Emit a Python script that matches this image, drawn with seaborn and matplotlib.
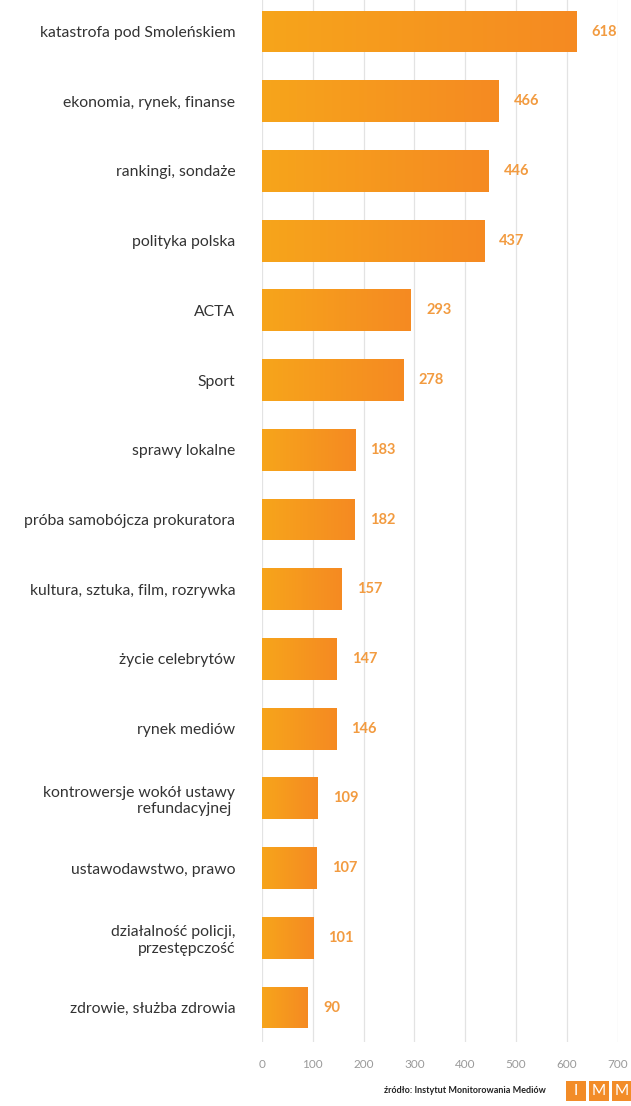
import matplotlib
matplotlib.use("Agg")
import matplotlib.pyplot as plt
import seaborn as sns
import numpy as np
import pandas as pd
from matplotlib.colors import LinearSegmentedColormap
from matplotlib.patches import Rectangle

categories = [
    "katastrofa pod Smoleńskiem",
    "ekonomia, rynek, finanse",
    "rankingi, sondaże",
    "polityka polska",
    "ACTA",
    "Sport",
    "sprawy lokalne",
    "próba samobójcza prokuratora",
    "kultura, sztuka, film, rozrywka",
    "życie celebrytów",
    "rynek mediów",
    "kontrowersje wokół ustawy\nrefundacyjnej ",
    "ustawodawstwo, prawo",
    "działalność policji,\nprzestępczość",
    "zdrowie, służba zdrowia",
]
values = [618, 466, 446, 437, 293, 278, 183, 182, 157, 147, 146, 109, 107, 101, 90]
xticks = [0, 100, 200, 300, 400, 500, 600, 700]

sns.set_theme(style="white")
plt.rcParams['font.family'] = ['Lato', 'DejaVu Sans']

df = pd.DataFrame({"cat": categories, "val": values})

fig = plt.figure(figsize=(6.31, 11.06), dpi=100)
ax = fig.add_axes([0.415, 0.0575, 0.564, 0.9455])

sns.barplot(data=df, y="cat", x="val", orient="h", color="#F6A01E",
            width=0.6, ax=ax, zorder=2)

cmap = LinearSegmentedColormap.from_list("og", ["#F7A51B", "#F58A22"])
grad = np.linspace(0, 1, 256).reshape(1, -1)
for p in ax.patches:
    x0, y0 = p.get_x(), p.get_y()
    w, h = p.get_width(), p.get_height()
    im = ax.imshow(grad, cmap=cmap, aspect="auto",
                   extent=[x0, x0 + w, y0 + h, y0], zorder=3)
    im.set_clip_path(p)
    p.set_facecolor("none")
    p.set_edgecolor("none")

for i, v in enumerate(values):
    ax.annotate(str(v), xy=(v, i), xytext=(11, 0), textcoords="offset points",
                ha="left", va="center", color="#F29B40", fontsize=10.5,
                fontweight="bold", zorder=4)

ax.set_xlim(0, 700)
ax.set_ylim(len(categories) - 0.5, -0.5)
ax.set_xticks(xticks)
ax.set_xticklabels([str(t) for t in xticks], color="#9A9A9A", fontsize=8.5)
ax.tick_params(axis="x", length=0, pad=12)
ax.tick_params(axis="y", length=0, pad=19, labelsize=11.3, labelcolor="#333333")
ax.set_xlabel("")
ax.set_ylabel("")
for s in ax.spines.values():
    s.set_visible(False)
ax.grid(axis="x", color="#E3E3E3", linewidth=0.9, zorder=0)
ax.set_axisbelow(True)
ax.set_facecolor("white")
fig.patch.set_facecolor("white")

fig.text(0.865, 0.014, "źródło: Instytut Monitorowania Mediów", ha="right",
         va="center", fontsize=6.5, fontweight="bold", color="#222222")
W, H = 631.0, 1106.0
for k, letter in enumerate(["I", "M", "M"]):
    bx = (566 + k * 23) / W
    by = (1106 - 1101) / H
    fig.patches.append(Rectangle((bx, by), 20 / W, 20 / H,
                                 transform=fig.transFigure,
                                 facecolor="#F28C28", edgecolor="none"))
    fig.text(bx + 10 / W, by + 10 / H, letter, ha="center", va="center",
             fontsize=11, color="white")

fig.savefig("out.png", dpi=100, facecolor="white")
